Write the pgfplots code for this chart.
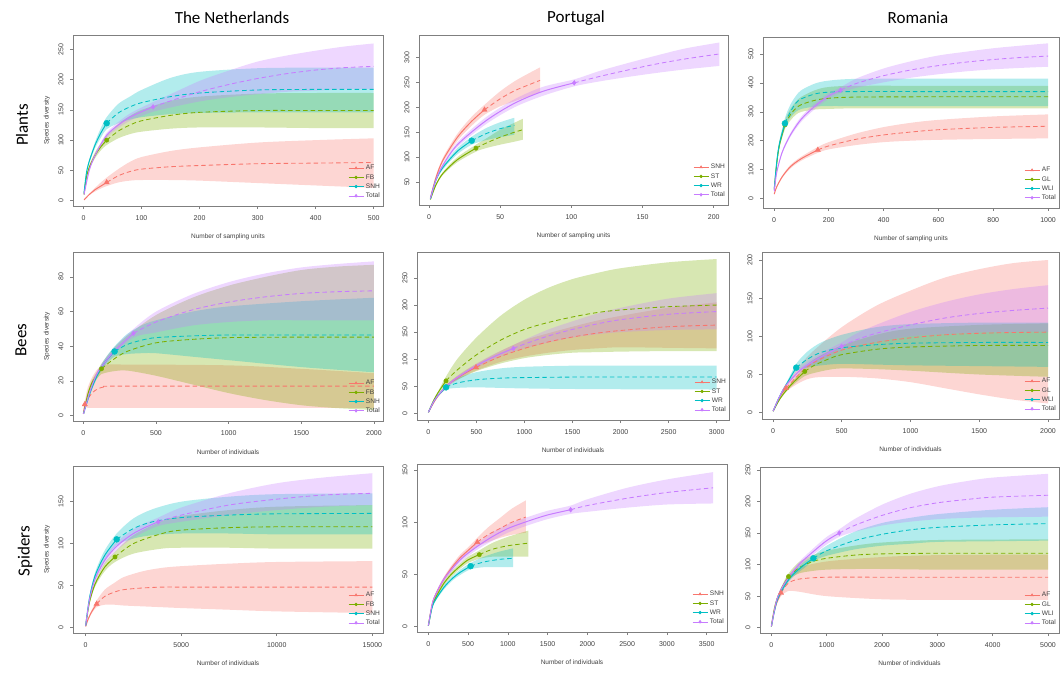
\documentclass[border=0pt]{standalone}
\usepackage{pgfplots}
\pgfplotsset{compat=1.18}
\usepackage{pgfplotstable}
\usepgfplotslibrary{fillbetween}
\usepackage{fontspec}
\setmainfont{Liberation Sans}
\newfontfamily\titlefont{Carlito}

\definecolor{cA}{HTML}{F8766D}
\definecolor{cB}{HTML}{7CAE00}
\definecolor{cC}{HTML}{00BFC4}
\definecolor{cD}{HTML}{C77CFF}
\definecolor{fr}{HTML}{7F7F7F}
\definecolor{tickc}{HTML}{404040}

% ---- Plants, The Netherlands
\pgfplotstableread{
x y lo hi
1 1 1 1
10 10 9 11
20 18 15 21
30 24 20 30
40 30 24 38
60 41 30 52
80 48 33 64
100 52 34 72
150 56 34 82
200 58 33 88
300 61 29 96
400 62 25 100
500 63 21 103
}\nlpAF
\pgfplotstableread{
x y lo hi
1 10 10 10
5 38 36 40
10 55 52 58
20 75 70 80
30 89 83 95
40 100 92 108
60 115 103 127
80 125 110 140
100 132 114 150
150 141 119 165
200 146 121 172
300 149 121 177
400 149 120 178
500 149 120 178
}\nlpFB
\pgfplotstableread{
x y lo hi
1 12 12 12
5 45 43 47
10 65 62 68
20 92 87 97
30 112 104 120
40 128 118 138
60 145 128 160
80 155 134 172
100 162 138 183
150 172 143 203
200 178 145 213
300 183 146 219
400 184 146 220
500 184 146 220
}\nlpSNH
\pgfplotstableread{
x y lo hi
1 10 10 10
10 50 48 52
20 75 72 78
40 108 104 112
60 125 120 130
80 138 132 144
100 147 140 154
120 155 147 163
150 165 154 176
200 180 164 198
250 192 171 215
300 202 176 230
350 210 180 240
400 216 182 248
450 220 184 255
500 222 185 260
}\nlpTot
% ---- Plants, Portugal
\pgfplotstableread{
x y lo hi
1 18 17 19
5 60 57 63
10 95 90 100
20 140 133 147
30 172 163 181
39 195 185 205
50 217 202 232
60 233 212 252
70 245 222 268
78 254 230 280
}\ptpSNH
\pgfplotstableread{
x y lo hi
1 15 14 16
5 45 43 47
10 68 65 71
20 95 90 100
33 118 111 125
40 128 118 137
50 140 125 155
60 150 131 169
66 155 135 177
}\ptpST
\pgfplotstableread{
x y lo hi
1 16 15 17
5 55 52 58
10 80 76 84
20 112 106 118
30 133 125 141
40 147 134 158
50 157 140 170
60 164 145 179
}\ptpWR
\pgfplotstableread{
x y lo hi
1 17 16 18
5 55 53 57
10 85 82 88
20 125 120 130
40 173 166 180
60 208 200 216
80 232 223 241
102 249 242 256
120 262 252 273
140 275 261 289
160 287 269 304
180 297 276 318
204 307 283 330
}\ptpTot
% ---- Plants, Romania
\pgfplotstableread{
x y lo hi
1 15 14 16
10 40 38 42
30 75 71 79
60 110 104 116
100 138 131 145
160 168 158 178
200 182 170 195
300 205 185 225
400 220 195 247
500 230 200 262
600 238 203 272
800 246 206 284
1000 250 208 291
}\ropAF
\pgfplotstableread{
x y lo hi
1 30 28 32
10 120 114 126
20 185 176 194
40 255 240 270
60 290 270 310
80 312 290 335
100 325 300 352
150 340 308 375
200 347 310 386
300 351 312 390
600 352 312 390
1000 352 312 390
}\ropGL
\pgfplotstableread{
x y lo hi
1 32 30 34
10 125 119 131
20 190 180 200
40 260 245 278
60 300 280 325
80 330 300 355
100 345 310 375
150 362 318 398
200 368 320 408
300 370 320 414
600 370 320 415
1000 370 320 415
}\ropWL
\pgfplotstableread{
x y lo hi
1 25 24 26
10 90 87 93
30 160 155 165
60 220 213 227
100 275 266 284
150 320 310 330
200 355 345 365
243 375 365 385
300 398 383 415
400 425 402 450
500 445 418 475
600 460 430 495
700 472 440 508
800 481 447 520
900 488 452 529
1000 493 456 537
}\ropTot
% ---- Bees, The Netherlands
\pgfplotstableread{
x y lo hi
1 1 1 1
10 6.5 5 8
30 9.5 4.5 16
60 13 4.5 22
100 15.5 4.5 27
150 16.7 4.5 29
200 17 4.5 29.5
1000 17 4.5 29
1500 17 4.5 27
2000 17 4.5 24.5
}\nlbAF
\pgfplotstableread{
x y lo hi
1 1 1 1
30 12 11 13
60 19 17.5 20.5
100 24 22 26
125 27 24 30
200 32 25.5 38
300 37 26 46
500 42 23 58
750 44 18 68
1000 45 13 75
1250 45.2 9 80
1500 45.3 6 84
1750 45.3 4.3 86
2000 45.3 3.3 87
}\nlbFB
\pgfplotstableread{
x y lo hi
1 1 1 1
50 14 13 15
100 24 22.5 25.5
150 31 29 33
215 37 34 40
300 41 35.5 47
400 43.5 36 52
500 45 36 55
750 46 34 60
1000 46.5 32 63
1500 46.5 28 66
2000 46.5 25 68
}\nlbSNH
\pgfplotstableread{
x y lo hi
1 1 1 1
50 15 14 16
100 25 23.5 26.5
200 36 34 38
345 47.5 45 50
500 54 48 60
750 61 52 70
1000 65.5 54 77
1250 68.5 55 82
1500 70.5 55 85.5
1750 71.5 55 87.5
2000 72 55 89
}\nlbTot
% ---- Bees, Portugal
\pgfplotstableread{
x y lo hi
1 2 2 2
50 18 17 19
100 32 30 34
200 52 49 55
300 65 61 69
400 76 71 81
496 85 79 91
750 105 95 115
1000 120 105 135
1250 132 112 148
1500 141 117 160
1750 148 120 171
2000 153 122 180
2500 160 121 195
3000 163 120 205
}\ptbSNH
\pgfplotstableread{
x y lo hi
1 2 2 2
50 22 21 23
100 38 36 40
184 60 52 68
300 80 62 100
500 108 78 140
750 135 92 180
1000 155 102 210
1250 168 108 232
1500 178 112 248
1750 186 113 259
2000 191 114 268
2500 197 115 279
3000 200 115 285
}\ptbST
\pgfplotstableread{
x y lo hi
1 2 2 2
50 20 19 21
100 33 31 35
184 48 44 52
300 56 47 65
500 62 48 76
750 65 47 83
1000 66 46 86
1500 67 45 88
2000 67 44.5 88
3000 67 44 88
}\ptbWR
\pgfplotstableread{
x y lo hi
1 2 2 2
50 20 19 21
100 33 31.5 34.5
200 52 50 54
300 66 63 69
500 88 84 92
700 106 101 111
885 120 114 126
1000 128 120 136
1250 143 131 155
1500 155 140 170
1750 165 146 184
2000 173 150 195
2500 183 154 212
3000 188 155 222
}\ptbTot
% ---- Bees, Romania
\pgfplotstableread{
x y lo hi
1 2 2 2
30 14 13 15
60 24 22 26
94 32 28 36
200 52 40 63
300 66 46 82
500 82 47 112
750 92 45 140
1000 98 40 160
1250 102 32 177
1500 104 24 188
1750 105 17 196
2000 105.5 12 200
}\robAF
\pgfplotstableread{
x y lo hi
1 2 2 2
50 18 17 19
100 30 28 32
150 40 37 43
231 54 48 60
300 62 52 70
400 70 56 80
500 76 58 88
750 83 57 102
1000 86 55 110
1500 88 50 115
2000 88 47 117
}\robGL
\pgfplotstableread{
x y lo hi
1 2 2 2
50 22 21 23
100 38 36 40
169 59 54 64
250 70 59 80
350 79 62 92
500 85 64 102
750 89 63 112
1000 91 62 116
1500 92 61 118
2000 92 60 118
}\robWL
\pgfplotstableread{
x y lo hi
1 2 2 2
50 22 21 23
100 37 35 39
200 56 53 59
300 68 64 72
400 78 73 83
499 87 82 92
600 95 88 103
750 104 93 115
1000 115 100 132
1250 124 103 145
1500 130 105 155
1750 134 106 162
2000 137 106 167
}\robTot
% ---- Spiders, The Netherlands
\pgfplotstableread{
x y lo hi
1 1 1 1
100 8 7 9
300 18 16 20
575 28 24 32
1000 37 27 45
1500 42 27 53
2000 45 26 60
3000 47 25 67
4000 48 24 71
5000 48 23 73
7500 48 21 76
10000 48 19 78
15000 48 17 79
}\nlsAF
\pgfplotstableread{
x y lo hi
1 2 2 2
200 30 28 32
500 52 49 55
1000 72 67 77
1535 84 78 90
2500 100 88 110
4000 112 94 127
5000 116 95 133
7500 119 95 140
10000 120 94 144
15000 120 94 146
}\nlsFB
\pgfplotstableread{
x y lo hi
1 2 2 2
200 35 33 37
500 62 58 66
1000 86 80 92
1622 105 98 112
2500 118 106 130
3500 126 110 141
5000 131 112 150
7500 134 112 156
10000 135.5 111 159
15000 136 111 160
}\nlsSNH
\pgfplotstableread{
x y lo hi
1 2 2 2
200 33 31 35
500 58 55 61
1000 80 76 84
1500 94 89 99
2000 104 99 109
2500 112 107 117
3000 118 113 123
3800 126 121 131
5000 134 126 143
7500 146 134 160
10000 153 140 172
12500 158 144 179
15000 160 146 184
}\nlsTot
% ---- Spiders, Portugal
\pgfplotstableread{
x y lo hi
1 1 1 1
50 22 21 23
100 32 30.5 33.5
200 46 44 48
300 57 54.5 59.5
400 66 63 69
500 73 70 76
616 81 77 85
750 88 81 95
900 94 85 104
1050 100 88 113
1228 105 90 121
}\ptsSNH
\pgfplotstableread{
x y lo hi
1 1 1 1
50 20 19 21
100 29 27.5 30.5
200 42 40 44
300 51 48.5 53.5
400 58 55.5 60.5
500 64 61 67
641 69 65 73
800 74 67 80
1000 77.5 67 86
1257 80 67 92
}\ptsST
\pgfplotstableread{
x y lo hi
1 1 1 1
50 19 18 20
100 27 25.5 28.5
200 38 36 40
300 46 44 48
400 52 49.5 54.5
532 58 55 61
700 62 57 67
900 64.5 57 72
1068 65.5 57 75
}\ptsWR
\pgfplotstableread{
x y lo hi
1 1 1 1
50 22 21 23
100 32 30.5 33.5
200 46 44 48
400 64 61 67
600 76 73 79
800 86 82 90
1000 94 90 98
1250 101 97 105
1500 107 103 111
1790 112 108 116
2000 116 110 122
2500 123 114 133
3000 128.5 117 141
3580 133 118 148
}\ptsTot
% ---- Spiders, Romania
\pgfplotstableread{
x y lo hi
1 2 2 2
50 25 24 26
100 40 38 42
175 55 50 60
300 70 58 82
500 77 57 95
1000 80 50 105
2000 80 45 112
3000 80 44 115
5000 80 44 116
}\rosAF
\pgfplotstableread{
x y lo hi
1 2 2 2
50 28 27 29
100 45 43 47
200 65 62 68
310 81 76 86
500 95 86 104
750 105 90 115
1000 110 92 122
1500 115 93 130
2000 117 93 135
3000 118 92 139
5000 118 92 140
}\rosGL
\pgfplotstableread{
x y lo hi
1 2 2 2
100 42 40 44
250 68 65 71
400 85 81 89
600 100 95 105
760 110 106 114
1000 122 114 130
1500 138 124 152
2000 148 130 166
2500 155 133 174
3000 159 136 180
4000 163 137 187
5000 165 138 191
}\rosWL
\pgfplotstableread{
x y lo hi
1 2 2 2
100 45 43 47
250 72 69 75
500 100 96 104
750 120 115 125
1000 138 132 144
1228 150 144 156
1500 162 152 172
2000 178 162 195
2500 190 168 212
3000 198 172 224
3500 203 174 232
4000 207 175 238
5000 210 176 244
}\rosTot

\pgfplotsset{
  rp/.style={
    scale only axis, anchor=north west,
    axis line style={draw=fr, line width=0.8pt},
    tick align=outside, tick pos=left, major tick length=3pt,
    every tick/.style={draw=fr, line width=0.6pt},
    ticklabel style={font=\fontsize{7}{8}\selectfont, text=tickc},
    yticklabel style={rotate=90, anchor=south},
    xticklabel shift=3.5pt, yticklabel shift=3pt,
    xlabel style={font=\fontsize{6.5}{7}\selectfont, text=tickc,
      at={(axis description cs:0.5,-0.182)}, anchor=center},
    ylabel style={font=\fontsize{6.5}{7}\selectfont, text=tickc,
      at={(axis description cs:-0.084,0.5)}, anchor=center},
    scaled ticks=false,
    /pgf/number format/set thousands separator={},
    /pgf/number format/assume math mode=true,
    legend style={draw=none, fill=none, at={(1,0)}, anchor=south east,
      xshift=1pt, yshift=4pt, font=\fontsize{6.6}{7}\selectfont,
      row sep=1.2pt, column sep=1pt,
      nodes={inner sep=1pt, text=tickc, text height=4.7pt, text depth=1.3pt}},
    legend cell align=left,
    legend image code/.code={\draw[mark repeat=2,mark phase=2,##1,
      line width=0.6pt, mark size=1.4pt] plot coordinates {(0pt,0pt)(7.5pt,0pt)(15pt,0pt)};},
  },
}

\newcommand{\band}[3]{%
  \addplot[name path=#2h, draw=none, smooth, forget plot] table[x=x,y=hi]{#1};
  \addplot[name path=#2l, draw=none, smooth, forget plot] table[x=x,y=lo]{#1};
  \addplot[fill=#3, fill opacity=0.3, draw=none, forget plot] fill between[of=#2h and #2l];
}
\newcommand{\curve}[6]{%
  \addplot[#2, line width=1pt, smooth, forget plot,
    restrict x to domain=0:#3] table[x=x,y=y]{#1};
  \addplot[#2, line width=0.85pt, smooth, dash pattern=on 4.5pt off 3pt, forget plot,
    restrict x to domain=#3:100000] table[x=x,y=y]{#1};
  \addplot[#2, only marks, mark=#5, mark size=#6, forget plot] coordinates {(#3,#4)};
}
\newcommand{\legNL}{%
  \addlegendimage{cA, mark=triangle*}\addlegendentry{AF}
  \addlegendimage{cB, mark=*}\addlegendentry{FB}
  \addlegendimage{cC, mark=*}\addlegendentry{SNH}
  \addlegendimage{cD, mark=diamond*}\addlegendentry{Total}}
\newcommand{\legPT}{%
  \addlegendimage{cA, mark=triangle*}\addlegendentry{SNH}
  \addlegendimage{cB, mark=*}\addlegendentry{ST}
  \addlegendimage{cC, mark=*}\addlegendentry{WR}
  \addlegendimage{cD, mark=diamond*}\addlegendentry{Total}}
\newcommand{\legRO}{%
  \addlegendimage{cA, mark=triangle*}\addlegendentry{AF}
  \addlegendimage{cB, mark=*}\addlegendentry{GL}
  \addlegendimage{cC, mark=*}\addlegendentry{WLI}
  \addlegendimage{cD, mark=diamond*}\addlegendentry{Total}}

\begin{document}
\begin{tikzpicture}
% ===== row 1: plants
\begin{axis}[rp, at={(73pt,638pt)}, width=310pt, height=171pt,
  xmin=-18, xmax=516, ymin=-9, ymax=274,
  xtick={0,100,...,500}, ytick={0,50,...,250},
  xlabel={Number of sampling units}, ylabel={Species diversity}]
\legNL
\band{\nlpAF}{a}{cA}\band{\nlpFB}{b}{cB}\band{\nlpSNH}{c}{cC}\band{\nlpTot}{d}{cD}
\curve{\nlpAF}{cA}{40}{30}{triangle*}{3pt}
\curve{\nlpFB}{cB}{40}{100}{*}{2.2pt}
\curve{\nlpSNH}{cC}{40}{128}{*}{3pt}
\curve{\nlpTot}{cD}{120}{155}{diamond*}{2.4pt}
\end{axis}

\begin{axis}[rp, at={(419pt,638pt)}, width=309pt, height=170pt,
  xmin=-7, xmax=210, ymin=4, ymax=345,
  xtick={0,50,...,200}, ytick={50,100,...,300},
  xlabel={Number of sampling units}]
\legPT
\band{\ptpSNH}{a}{cA}\band{\ptpST}{b}{cB}\band{\ptpWR}{c}{cC}\band{\ptpTot}{d}{cD}
\curve{\ptpSNH}{cA}{39}{195}{triangle*}{3pt}
\curve{\ptpST}{cB}{33}{118}{*}{2.2pt}
\curve{\ptpWR}{cC}{30}{133}{*}{3pt}
\curve{\ptpTot}{cD}{102}{249}{diamond*}{2.4pt}
\end{axis}

\begin{axis}[rp, at={(763pt,636pt)}, width=296pt, height=171pt,
  xmin=-40, xmax=1040, ymin=-33, ymax=559,
  xtick={0,200,...,1000}, ytick={0,100,...,500},
  xlabel={Number of sampling units}]
\legRO
\band{\ropAF}{a}{cA}\band{\ropGL}{b}{cB}\band{\ropWL}{c}{cC}\band{\ropTot}{d}{cD}
\curve{\ropAF}{cA}{160}{168}{triangle*}{3pt}
\curve{\ropGL}{cB}{40}{255}{*}{2.2pt}
\curve{\ropWL}{cC}{40}{260}{*}{3pt}
\curve{\ropTot}{cD}{243}{375}{diamond*}{2.4pt}
\end{axis}

% ===== row 2: bees
\begin{axis}[rp, at={(73pt,421pt)}, width=310pt, height=169pt,
  xmin=-71, xmax=2062, ymin=-3.1, ymax=94.4,
  xtick={0,500,...,2000}, ytick={0,20,...,80},
  xlabel={Number of individuals}, ylabel={Species diversity}]
\legNL
\band{\nlbAF}{a}{cA}\band{\nlbFB}{b}{cB}\band{\nlbSNH}{c}{cC}\band{\nlbTot}{d}{cD}
\curve{\nlbAF}{cA}{10}{6.5}{triangle*}{3pt}
\curve{\nlbFB}{cB}{125}{27}{*}{2.2pt}
\curve{\nlbSNH}{cC}{215}{37}{*}{3pt}
\curve{\nlbTot}{cD}{345}{47.5}{diamond*}{2.4pt}
\end{axis}

\begin{axis}[rp, at={(417pt,421pt)}, width=312pt, height=168pt,
  xmin=-118, xmax=3128, ymin=-12.3, ymax=298,
  xtick={0,500,...,3000}, ytick={0,50,...,250},
  xlabel={Number of individuals}]
\legPT
\band{\ptbSNH}{a}{cA}\band{\ptbST}{b}{cB}\band{\ptbWR}{c}{cC}\band{\ptbTot}{d}{cD}
\curve{\ptbSNH}{cA}{496}{85}{triangle*}{3pt}
\curve{\ptbST}{cB}{184}{60}{*}{2.2pt}
\curve{\ptbWR}{cC}{184}{48}{*}{3pt}
\curve{\ptbTot}{cD}{885}{120}{diamond*}{2.4pt}
\end{axis}

\begin{axis}[rp, at={(762pt,421pt)}, width=297pt, height=167pt,
  xmin=-80, xmax=2080, ymin=-8.3, ymax=210.5,
  xtick={0,500,...,2000}, ytick={0,50,...,200},
  xlabel={Number of individuals}]
\legRO
\band{\robAF}{a}{cA}\band{\robGL}{b}{cB}\band{\robWL}{c}{cC}\band{\robTot}{d}{cD}
\curve{\robAF}{cA}{94}{32}{triangle*}{3pt}
\curve{\robGL}{cB}{231}{54}{*}{2.2pt}
\curve{\robWL}{cC}{169}{59}{*}{3pt}
\curve{\robTot}{cD}{499}{87}{diamond*}{2.4pt}
\end{axis}

% ===== row 3: spiders
\begin{axis}[rp, at={(73pt,207pt)}, width=310pt, height=167pt,
  xmin=-663, xmax=15558, ymin=-6.8, ymax=192.6,
  xtick={0,5000,10000,15000}, ytick={0,50,...,150},
  xlabel={Number of individuals}, ylabel={Species diversity}]
\legNL
\band{\nlsAF}{a}{cA}\band{\nlsFB}{b}{cB}\band{\nlsSNH}{c}{cC}\band{\nlsTot}{d}{cD}
\curve{\nlsAF}{cA}{575}{28}{triangle*}{3pt}
\curve{\nlsFB}{cB}{1535}{84}{*}{2.2pt}
\curve{\nlsSNH}{cC}{1622}{105}{*}{3pt}
\curve{\nlsTot}{cD}{3800}{126}{diamond*}{2.4pt}
\end{axis}

\begin{axis}[rp, at={(417pt,209pt)}, width=310pt, height=168pt,
  xmin=-142, xmax=3756, ymin=-5.1, ymax=155.8,
  xtick={0,500,...,3500}, ytick={0,50,...,150},
  xlabel={Number of individuals}]
\legPT
\band{\ptsSNH}{a}{cA}\band{\ptsST}{b}{cB}\band{\ptsWR}{c}{cC}\band{\ptsTot}{d}{cD}
\curve{\ptsSNH}{cA}{616}{81}{triangle*}{3pt}
\curve{\ptsST}{cB}{641}{69}{*}{2.2pt}
\curve{\ptsWR}{cC}{532}{58}{*}{3pt}
\curve{\ptsTot}{cD}{1790}{112}{diamond*}{2.4pt}
\end{axis}

\begin{axis}[rp, at={(760pt,206pt)}, width=299pt, height=166pt,
  xmin=-205, xmax=5199, ymin=-8.5, ymax=254.8,
  xtick={0,1000,...,5000}, ytick={0,50,...,250},
  xlabel={Number of individuals}]
\legRO
\band{\rosAF}{a}{cA}\band{\rosGL}{b}{cB}\band{\rosWL}{c}{cC}\band{\rosTot}{d}{cD}
\curve{\rosAF}{cA}{175}{55}{triangle*}{3pt}
\curve{\rosGL}{cB}{310}{81}{*}{2.2pt}
\curve{\rosWL}{cC}{760}{110}{*}{3pt}
\curve{\rosTot}{cD}{1228}{150}{diamond*}{2.4pt}
\end{axis}

% titles
\begin{scope}[every node/.style={font=\titlefont\fontsize{17}{20}\selectfont}]
\node at (232pt,655pt) {The Netherlands};
\node at (576pt,655pt) {Portugal};
\node at (918pt,655pt) {Romania};
\node[rotate=90] at (22pt,548pt) {Plants};
\node[rotate=90] at (21pt,333pt) {Bees};
\node[rotate=90] at (25pt,122pt) {Spiders};
\end{scope}
\pgfresetboundingbox
\useasboundingbox (0pt,0pt) rectangle (1062pt,673pt);
\end{tikzpicture}
\end{document}
